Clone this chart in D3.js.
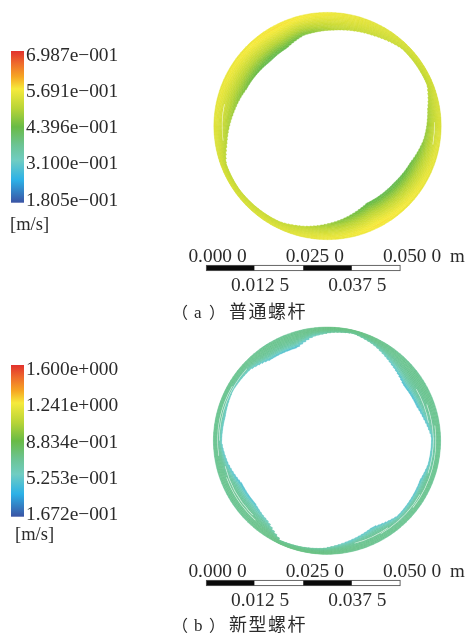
<!DOCTYPE html>
<html><head><meta charset="utf-8">
<script src="https://cdn.jsdelivr.net/npm/d3@7/dist/d3.min.js"></script>
<style>
html,body{margin:0;padding:0;background:#fff}
svg{display:block}
text{font-family:"Liberation Serif",serif;fill:#2b2b2b}
.cjk{font-family:"Noto Sans CJK SC",sans-serif;font-weight:400}
</style></head><body>
<svg id="c" width="466" height="636"></svg>
<script>
// ---- Data (radii in mm, velocity in m/s, angles in degrees clockwise from north) ----
const ticksA = [0.6987, 0.5691, 0.4396, 0.3100, 0.1805];
const ticksB = [1.600, 1.241, 0.8834, 0.5253, 0.1672];
const tickLabelsA = ["6.987e−001","5.691e−001","4.396e−001","3.100e−001","1.805e−001"];
const tickLabelsB = ["1.600e+000","1.241e+000","8.834e−001","5.253e−001","1.672e−001"];
const unitLabel = "[m/s]";
const outerRadius = 29.1;

const anglesA = [3,14,27,44,68,81,98,114,131,153,172,192,206,234,250,260,278,295,318,332,345];
const innerA  = [24.6,25.2,26.0,27.5,27.6,26.0,24.9,23.2,22.4,22.2,24.3,26.3,27.4,27.8,27.7,26.2,24.3,22.8,22.1,22.5,24.0];
const wallVelA= [.56,.555,.545,.535,.53,.535,.545,.555,.565,.575,.56,.55,.54,.535,.535,.54,.55,.56,.57,.575,.57];
const coreVelA= [.50,.515,.52,.52,.51,.49,.47,.44,.42,.43,.46,.51,.52,.52,.51,.50,.48,.45,.42,.43,.45];

const anglesB = [3,14,26,40,54,69,77,88,103,113,137,152,169,182,194,205,216,229,243,257,269,283,298,313,325,342,352];
const innerB  = [27.8,28.3,27.3,25.6,24.2,24.6,25.4,26.8,26.6,25.9,26.4,25.0,26.4,27.6,28.0,28.2,25.6,24.4,24.4,26.0,27.0,26.8,27.3,26.8,25.3,25.0,26.9];
const wallVelB= [.74,.74,.73,.72,.72,.72,.72,.72,.72,.72,.72,.72,.73,.74,.74,.74,.73,.72,.72,.72,.72,.72,.72,.72,.72,.72,.73];
const coreVelB= [.68,.70,.60,.50,.46,.46,.48,.50,.50,.48,.50,.50,.52,.66,.70,.70,.56,.48,.46,.50,.52,.52,.54,.52,.48,.46,.54];

// white slits seen near the bore: [start angle, end angle, radius mm]
const slitsB = [[270,312,27.6],[262,300,28.0],[225,256,26.9],[222,250,27.4],[70,108,27.2],[82,128,27.9],[120,150,27.5],[145,165,27.2],[60,80,26.4]];
const slitsA = [[262,282,27.0],[88,100,27.4]];

const barStops = [0,0.0125,0.025,0.0375,0.05];
const barTopTicks = [0,0.025,0.05];
const barTopLabels = ["0.000 0","0.025 0","0.050 0"];
const barBotTicks = [0.0125,0.0375];
const barBotLabels = ["0.012 5","0.037 5"];
const barUnit = "m";

// ---- Colours: the solver's rainbow legend, 0 = top of bar, 1 = bottom ----
const rampPos = [0,.08,.17,.25,.38,.5,.62,.72,.85,1];
const rampCol = ["#e2312d","#ee6a2c","#f6a623","#f6ea3c","#b7d437","#69bb46","#6cc494","#70cdc2","#2cb1e7","#3a53a4"];
const ramp = d3.scaleLinear().domain(rampPos).range(rampCol).interpolate(d3.interpolateRgb);

const svg = d3.select("#c");
const defs = svg.append("defs");
defs.append("filter").attr("id","soft").append("feGaussianBlur").attr("stdDeviation",0.55);
defs.append("filter").attr("id","softT").append("feGaussianBlur").attr("stdDeviation",0.3);

function lerpCirc(angles, vals, a){
  const n = angles.length;
  for(let i=0;i<n;i++){
    const a0 = angles[i], a1 = i<n-1?angles[i+1]:angles[0]+360;
    const t0 = a<a0? a+360 : a;
    if(t0>=a0 && t0<=a1) return vals[i]+(vals[(i+1)%n]-vals[i])*(t0-a0)/(a1-a0);
  }
  return vals[0];
}

function ring(cx,cy,angles,inner,wall,core,ticks,slits,wallOffset,fall){
  const rScale = d3.scaleLinear().domain([0,outerRadius]).range([0,113.6]);
  const tScale = d3.scaleLinear().domain([ticks[0],ticks[4]]).range([0,1]);
  const g = svg.append("g").attr("transform",`translate(${cx},${cy})`).attr("filter","url(#soft)");
  const arc = d3.arc();
  const da = 2, nd = 14;
  for(let a=0;a<360;a+=da){
    const ri = lerpCirc(angles,inner,a+da/2), w = lerpCirc(angles,wall,a+da/2), c = lerpCirc(angles,core,a+da/2);
    for(let k=0;k<nd;k++){
      const f0=k/nd,f1=(k+1)/nd;
      const r1 = outerRadius-(outerRadius-ri)*f0, r0 = outerRadius-(outerRadius-ri)*f1;
      const fm=(f0+f1)/2;
      const x = fm<wallOffset ? 0 : (fm-wallOffset)/(1-wallOffset);
      const prof = fm<wallOffset ? 0.9+0.1*fm/wallOffset : 1-Math.pow(x,fall);
      const v = c+(w-c)*prof;
      const col = ramp(tScale(v));
      g.append("path").attr("d",arc({innerRadius:rScale(r0),outerRadius:rScale(r1),
          startAngle:a*Math.PI/180,endAngle:(a+da)*Math.PI/180}))
        .attr("fill",col).attr("stroke",col).attr("stroke-width",0.5);
    }
  }
  slits.forEach(s=>{
    g.append("path").attr("d",arc({innerRadius:rScale(s[2])-0.3,outerRadius:rScale(s[2])+0.3,
      startAngle:s[0]*Math.PI/180,endAngle:s[1]*Math.PI/180})).attr("fill","#fff").attr("opacity",.8);
  });
}

function legend(y0,y1,lab0,lab1,ticks,labels,unitX,unitY){
  const g = svg.append("g");
  const bar = d3.scaleLinear().domain([0,1]).range([y0,y1]);
  const grad = defs.append("linearGradient").attr("id","g"+y0).attr("x1",0).attr("x2",0).attr("y1",0).attr("y2",1);
  rampPos.forEach((p,i)=>grad.append("stop").attr("offset",p).attr("stop-color",rampCol[i]));
  g.append("rect").attr("x",11).attr("width",13).attr("y",bar(0)).attr("height",bar(1)-bar(0)).attr("fill",`url(#g${y0})`);
  const ly = d3.scaleLinear().domain([ticks[0],ticks[4]]).range([lab0,lab1]);
  const tg = g.append("g").attr("filter","url(#softT)");
  tg.selectAll("text.t").data(ticks).join("text").attr("class","t")
    .attr("x",26).attr("y",d=>ly(d)).attr("font-size",19.4).text((d,i)=>labels[i]);
  tg.append("text").attr("x",unitX).attr("y",unitY).attr("font-size",18.5).text(unitLabel);
}

function scaleBar(yBar,yTop,yBot,yCap,capLatin,capCjk){
  const x = d3.scaleLinear().domain([0,0.05]).range([206,400.5]);
  const g = svg.append("g");
  barStops.slice(0,-1).forEach((s,i)=>{
    g.append("rect").attr("x",x(s)).attr("y",yBar).attr("width",x(barStops[i+1])-x(s)).attr("height",6)
      .attr("fill",i%2?"#fff":"#0a0a0a");
  });
  g.append("rect").attr("x",x(0)+.4).attr("y",yBar+.4).attr("width",x(0.05)-x(0)-.8).attr("height",5.2)
    .attr("fill","none").attr("stroke","#555").attr("stroke-width",.9);
  const tg = g.append("g").attr("filter","url(#softT)");
  tg.selectAll("text.a").data(barTopLabels).join("text").attr("class","a").attr("text-anchor","middle")
    .attr("x",(d,i)=>x(barTopTicks[i])+11.5).attr("y",yTop).attr("font-size",19.4).text(d=>d);
  tg.append("text").attr("x",450).attr("y",yTop).attr("font-size",19).text(barUnit);
  tg.selectAll("text.b").data(barBotLabels).join("text").attr("class","b").attr("text-anchor","middle")
    .attr("x",(d,i)=>x(barBotTicks[i])+5.5).attr("y",yBot).attr("font-size",19.4).text(d=>d);
  tg.append("text").attr("class","cjk").attr("x",172).attr("y",yCap).attr("font-size",16).text("（");
  tg.append("text").attr("x",194).attr("y",yCap).attr("font-size",17).text(capLatin);
  tg.append("text").attr("class","cjk").attr("x",209).attr("y",yCap).attr("font-size",16).text("）");
  tg.append("text").attr("class","cjk").attr("x",229).attr("y",yCap).attr("font-size",18).attr("letter-spacing",1.5).text(capCjk);
}

ring(327.5,126,anglesA,innerA,wallVelA,coreVelA,ticksA,slitsA,.1,1.3);
ring(327,440.7,anglesB,innerB,wallVelB,coreVelB,ticksB,slitsB,.1,3.5);
legend(51,202.7,60.7,205.7,ticksA,tickLabelsA,10,230);
legend(365,516.7,375,520,ticksB,tickLabelsB,15,540);
scaleBar(265,261.7,290.7,318,"a","普通螺杆");
scaleBar(580,576.7,605.7,630.6,"b","新型螺杆");
</script>
</body></html>
